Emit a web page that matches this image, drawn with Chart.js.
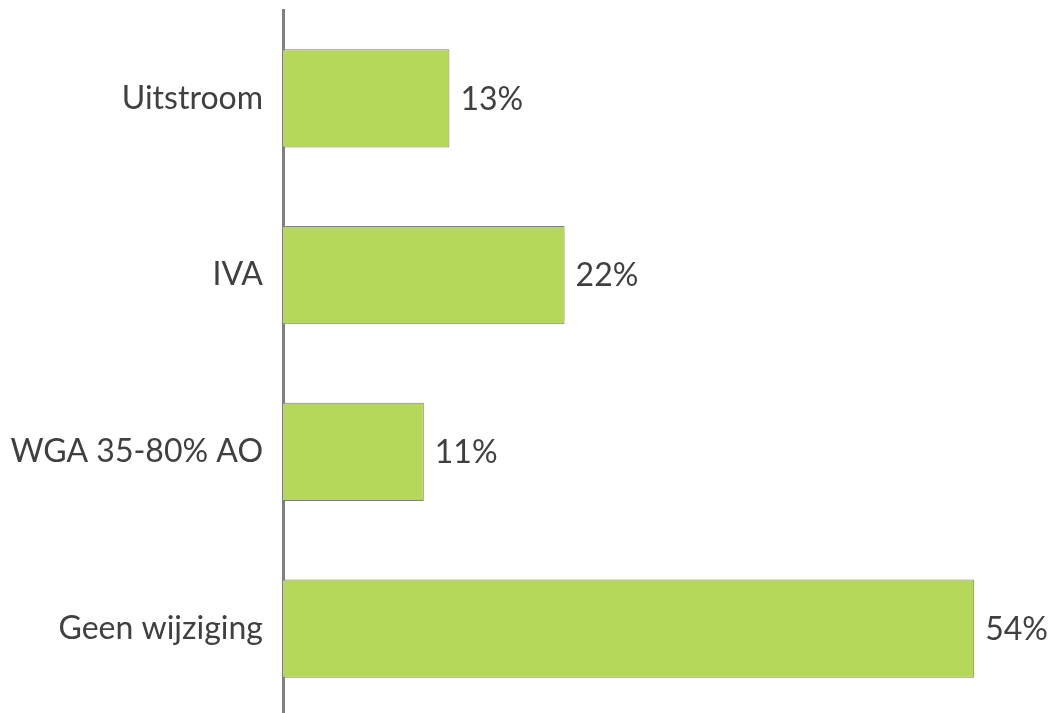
<!DOCTYPE html>
<html>
<head>
<meta charset="utf-8">
<script src="https://cdn.jsdelivr.net/npm/chart.js@4/dist/chart.umd.min.js"></script>
<style>
  html, body { margin: 0; padding: 0; background: #ffffff; overflow: hidden; }
  #wrap { width: 1051px; height: 713px; overflow: hidden; }
  canvas { display: block; }
</style>
</head>
<body>
<div id="wrap"><canvas id="chart" width="1051" height="717"></canvas></div>
<script>
// Outcome categories, top to bottom
const categories = ['Uitstroom', 'IVA', 'WGA 35-80% AO', 'Geen wijziging'];
// Share per category, in percent
const shares = [13, 22, 11, 54];

const FONT = 'Lato, "Open Sans", sans-serif';
const TEXT = '#404040';

// Writes each bar's percentage just past its end
const valueLabels = {
  id: 'valueLabels',
  afterDatasetsDraw(chart) {
    const ctx = chart.ctx;
    const meta = chart.getDatasetMeta(0);
    ctx.save();
    ctx.font = '32px ' + FONT;
    ctx.fillStyle = TEXT;
    ctx.textAlign = 'left';
    ctx.textBaseline = 'middle';
    meta.data.forEach((bar, i) => {
      const v = chart.data.datasets[0].data[i];
      ctx.fillText(v + '%', bar.x + 11, bar.y + 1);
    });
    ctx.restore();
  }
};

new Chart(document.getElementById('chart'), {
  type: 'bar',
  data: {
    labels: categories,
    datasets: [{
      data: shares,
      backgroundColor: '#b5d75a',
      borderColor: '#808080',
      borderWidth: 1,
      barPercentage: 0.555,
      categoryPercentage: 1
    }]
  },
  options: {
    indexAxis: 'y',
    responsive: false,
    animation: false,
    devicePixelRatio: 1,
    layout: { padding: { top: 10, right: 0, bottom: 0, left: 0 } },
    plugins: {
      legend: { display: false },
      tooltip: { enabled: false }
    },
    scales: {
      x: {
        display: false,
        min: 0,
        max: 60
      },
      y: {
        afterFit(scale) {
          scale.width = 283;
          scale.paddingTop = 0;
          scale.paddingBottom = 0;
        },
        grid: { display: false, drawTicks: false },
        border: { display: true, color: '#808080', width: 3 },
        ticks: {
          color: TEXT,
          font: { family: FONT, size: 32 },
          padding: 20
        }
      }
    }
  },
  plugins: [valueLabels]
});
</script>
</body>
</html>
